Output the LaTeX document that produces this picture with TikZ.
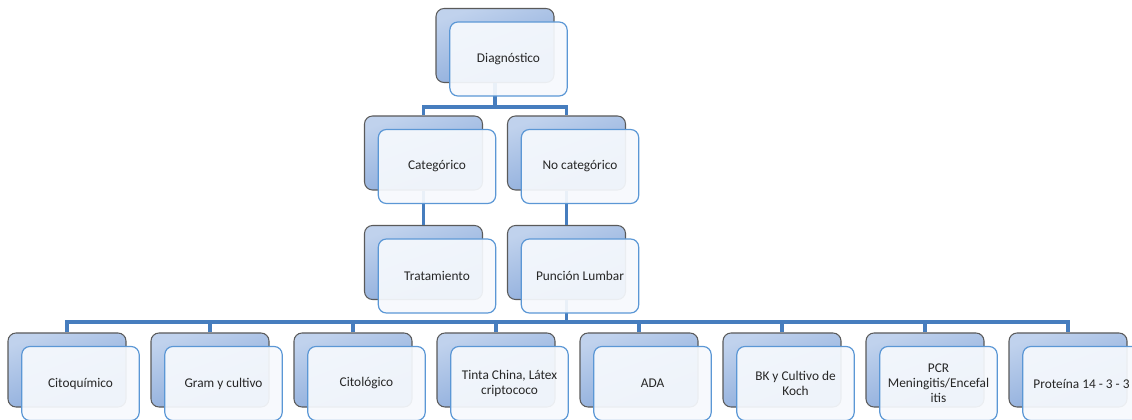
\documentclass[tikz,border=0pt]{standalone}
\usepackage{fontspec}
\setmainfont{Carlito}
\definecolor{backtop}{RGB}{192,210,237}
\definecolor{backbot}{RGB}{134,167,217}
\definecolor{backline}{RGB}{90,90,90}
\definecolor{frontline}{RGB}{91,151,213}
\definecolor{frontfill}{RGB}{246,249,253}
\definecolor{connline}{RGB}{70,125,190}
\tikzset{
  backbox/.style={draw=backline, line width=0.8pt, rounded corners=6pt,
    shading=axis, top color=backtop, bottom color=backbot, shading angle=20,
    minimum width=88.5pt, minimum height=55.5pt, inner sep=0pt},
  frontbox/.style={draw=frontline, line width=0.9pt, rounded corners=6pt,
    fill=frontfill, fill opacity=0.93, text opacity=1,
    minimum width=88pt, minimum height=55.5pt, inner sep=1pt,
    align=center, font=\fontsize{10}{11.3}\selectfont, text=black!85},
  conn/.style={draw=connline, line width=2.3pt}
}
\begin{document}
\begin{tikzpicture}[x=0.75pt,y=-0.75pt]
\useasboundingbox (0,0) rectangle (1132,420);
\clip (0,0) rectangle (1132,420);
% back boxes
\node[backbox] (dB) at (495,45.5) {};
\node[backbox] (cB) at (423.5,153) {};
\node[backbox] (nB) at (566.5,153) {};
\node[backbox] (tB) at (423.5,262.5) {};
\node[backbox] (pB) at (566.5,262.5) {};
\foreach \i in {0,...,7} {
  \node[backbox] (b\i B) at (67+143*\i,370) {};
}
% connectors
\coordinate (bus1) at (495,107);
\coordinate (bus2) at (566.5,322);
\draw[conn] (dB.south) -- (bus1);
\draw[conn] (cB.north) |- (bus1) -| (nB.north);
\draw[conn] (cB.south) -- (tB.north);
\draw[conn] (nB.south) -- (pB.north);
\draw[conn] (pB.south) -- (bus2);
\draw[conn] (b0B.north) |- (bus2) -| (b7B.north);
\foreach \i in {1,...,6} {
  \draw[conn] (b\i B.north) -- (b\i B.north |- bus2);
}
% front boxes
\node[frontbox] (dF) at (508.5,59) {Diagnóstico};
\node[frontbox] (cF) at (437,166.5) {Categórico};
\node[frontbox] (nF) at (580,166.5) {No categórico};
\node[frontbox] (tF) at (437,276) {Tratamiento};
\node[frontbox] (pF) at (580,276) {Punción Lumbar};
\node[frontbox] (b0F) at (80.5,383.5) {Citoquímico};
\node[frontbox] (b1F) at (223.5,383.5) {Gram y cultivo};
\node[frontbox] (b2F) at (366.5,383.5) {Citológico};
\node[frontbox] (b3F) at (509.5,383.5) {Tinta China, Látex\\criptococo};
\node[frontbox] (b4F) at (652.5,383.5) {ADA};
\node[frontbox] (b5F) at (795.5,383.5) {BK y Cultivo de\\Koch};
\node[frontbox] (b6F) at (938.5,383.5) {PCR\\Meningitis/Encefal\\itis};
\node[frontbox] (b7F) at (1081.5,383.5) {Proteína 14 - 3 - 3};
\end{tikzpicture}
\end{document}
